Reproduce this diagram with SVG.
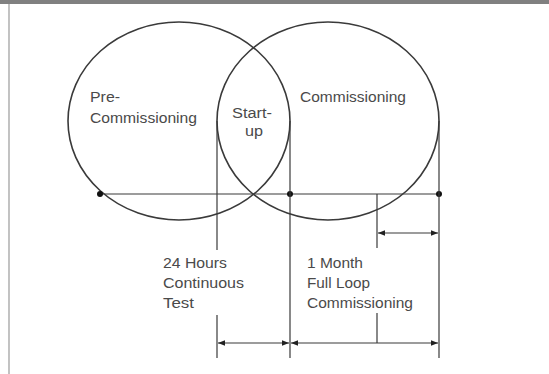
<svg xmlns="http://www.w3.org/2000/svg" width="549" height="374" viewBox="0 0 549 374">
<style>
.ln{stroke:#3a3a3a;stroke-width:1.2;fill:none}
.cir{stroke:#3a3a3a;stroke-width:1.6;fill:none}
.t{font-family:"Liberation Sans",Arial,sans-serif;font-size:14px;fill:#4a4a4a}
.ar{stroke:#3a3a3a;stroke-width:1.2;fill:none;marker-start:url(#ah);marker-end:url(#ah)}
</style>
<defs>
<marker id="ah" viewBox="0 0 10 10" refX="10" refY="5" markerWidth="7" markerHeight="7" markerUnits="userSpaceOnUse" orient="auto-start-reverse">
<path d="M0,1 L10,5 L0,9 z" fill="#222"/>
</marker>
</defs>
<rect x="0" y="0" width="549" height="4" fill="#808080"/>
<line x1="9" y1="4" x2="9" y2="374" stroke="#9a9a9a" stroke-width="1.2"/>
<g id="pre-commissioning">
<ellipse class="cir" cx="179" cy="121" rx="111" ry="99"/>
<text class="t" x="90" y="102" textLength="30" lengthAdjust="spacingAndGlyphs">Pre-</text>
<text class="t" x="90" y="123" textLength="107" lengthAdjust="spacingAndGlyphs">Commissioning</text>
</g>
<g id="commissioning">
<ellipse class="cir" cx="328" cy="121" rx="111" ry="99"/>
<text class="t" x="300" y="102" textLength="106" lengthAdjust="spacingAndGlyphs">Commissioning</text>
</g>
<g id="startup">
<text class="t" x="232" y="118" textLength="40" lengthAdjust="spacingAndGlyphs">Start-</text>
<text class="t" x="245" y="136" textLength="18" lengthAdjust="spacingAndGlyphs">up</text>
</g>
<g id="test24">
<text class="t" x="163" y="268" textLength="64" lengthAdjust="spacingAndGlyphs">24 Hours</text>
<text class="t" x="163" y="288" textLength="81" lengthAdjust="spacingAndGlyphs">Continuous</text>
<text class="t" x="163" y="308" textLength="31" lengthAdjust="spacingAndGlyphs">Test</text>
</g>
<g id="month1">
<text class="t" x="307" y="268" textLength="56" lengthAdjust="spacingAndGlyphs">1 Month</text>
<text class="t" x="307" y="288" textLength="63" lengthAdjust="spacingAndGlyphs">Full Loop</text>
<text class="t" x="307" y="308" textLength="106" lengthAdjust="spacingAndGlyphs">Commissioning</text>
</g>
<g id="connectors">
<line class="ln" x1="100" y1="194" x2="440" y2="194"/>
<circle cx="100" cy="194" r="3" fill="#111"/>
<circle cx="290" cy="194" r="3" fill="#111"/>
<circle cx="439" cy="194" r="3" fill="#111"/>
<line class="ln" x1="217" y1="121" x2="217" y2="250"/>
<line class="ln" x1="217" y1="315" x2="217" y2="358"/>
<line class="ln" x1="290" y1="121" x2="290" y2="358"/>
<line class="ln" x1="439" y1="121" x2="439" y2="358"/>
<line class="ln" x1="377" y1="194" x2="377" y2="248"/>
<line class="ln" x1="377" y1="313" x2="377" y2="343"/>
<line class="ar" x1="378" y1="233" x2="438" y2="233"/>
<line class="ar" x1="218" y1="343" x2="289" y2="343"/>
<line class="ar" x1="291" y1="343" x2="438" y2="343"/>
</g>
</svg>
